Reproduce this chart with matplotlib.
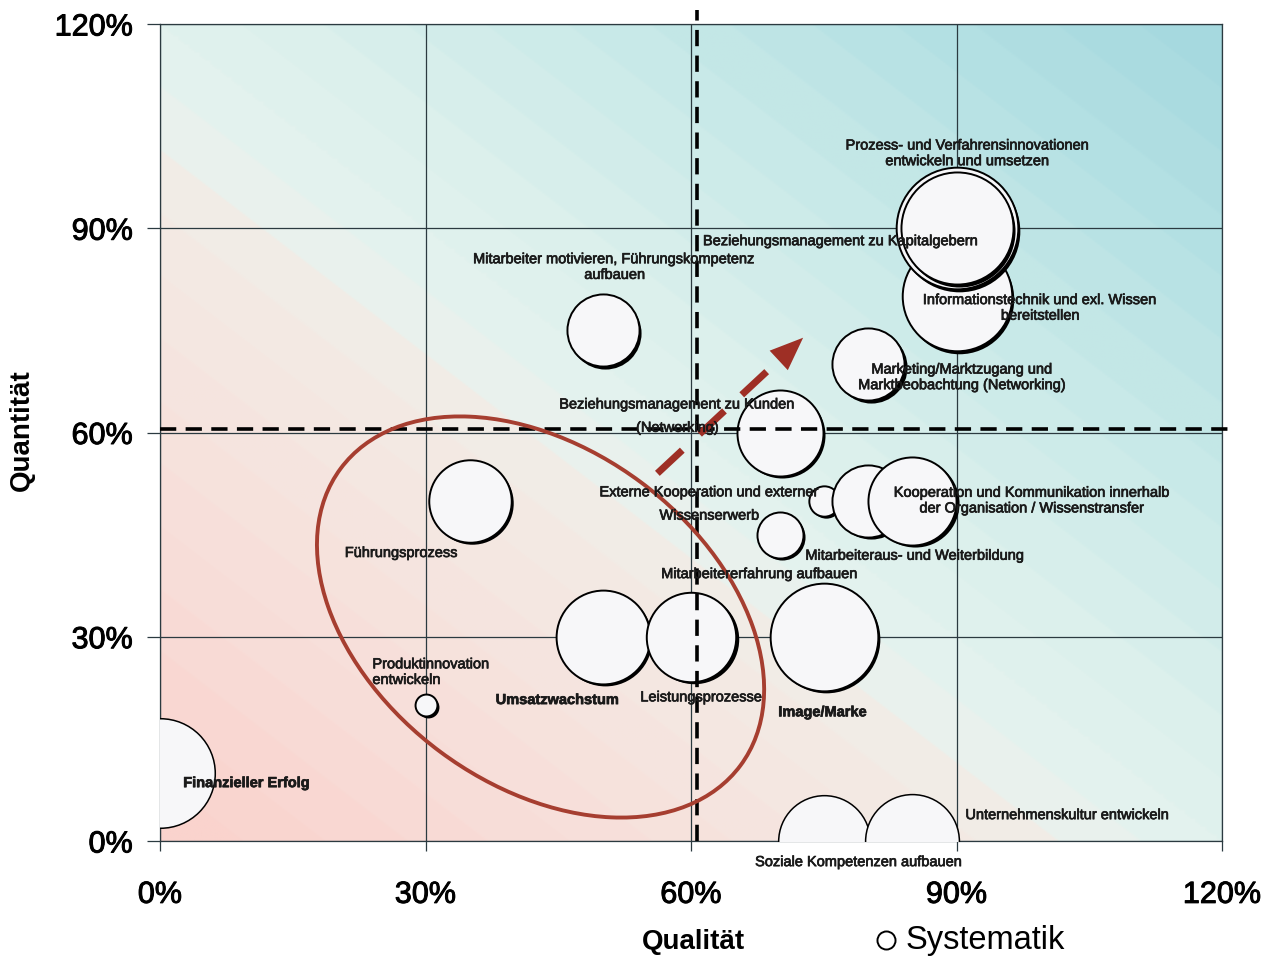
import numpy as np
import matplotlib
matplotlib.use("Agg")
import matplotlib.pyplot as plt
import matplotlib.transforms as mtransforms
import matplotlib.patheffects as pe
from matplotlib.colors import LinearSegmentedColormap
from matplotlib.patches import Ellipse, FancyArrowPatch
from matplotlib.lines import Line2D

plt.rcParams["font.family"] = ["Liberation Sans", "DejaVu Sans"]

# bubbles: name, Qualität (%), Quantität (%), bubble weight (area)
names = ["Finanzieller Erfolg", "Produktinnovation entwickeln", "Umsatzwachstum",
         "Leistungsprozesse", "Image/Marke", "Führungsprozess",
         "Mitarbeiter motivieren, Führungskompetenz aufbauen",
         "Beziehungsmanagement zu Kunden (Networking)",
         "Externe Kooperation und externer Wissenserwerb",
         "Mitarbeiteraus- und Weiterbildung", "Mitarbeitererfahrung aufbauen",
         "Kooperation und Kommunikation innerhalb der Organisation / Wissenstransfer",
         "Marketing/Marktzugang und Marktbeobachtung (Networking)",
         "Informationstechnik und exl. Wissen bereitstellen",
         "Prozess- und Verfahrensinnovationen entwickeln und umsetzen",
         "Beziehungsmanagement zu Kapitalgebern",
         "Soziale Kompetenzen aufbauen", "Unternehmenskultur entwickeln"]
qual = [0, 30, 50, 60, 75, 35, 50, 70, 75, 70, 80, 85, 80, 90, 90, 90, 75, 85]
quant = [10, 20, 30, 30, 30, 50, 75, 60, 50, 45, 50, 50, 70, 80, 90, 90, 0, 0]
weight = [30, 1.2, 22, 20, 29, 17, 13, 18.5, 2.3, 5.3, 13, 19.4, 13, 30, 37, 31.4, 21, 22]

# label texts and where they sit (data units)
label_txt = ["Finanzieller Erfolg", "Produktinnovation\nentwickeln", "Umsatzwachstum",
             "Leistungsprozesse", "Image/Marke", "Führungsprozess",
             "Mitarbeiter motivieren, Führungskompetenz\naufbauen",
             "Beziehungsmanagement zu Kunden\n(Networking)",
             "Externe Kooperation und externer\nWissenserwerb",
             "Mitarbeiteraus- und Weiterbildung", "Mitarbeitererfahrung aufbauen",
             "Kooperation und Kommunikation innerhalb\nder Organisation / Wissenstransfer",
             "Marketing/Marktzugang und\nMarktbeobachtung (Networking)",
             "Informationstechnik und exl. Wissen\nbereitstellen",
             "Prozess- und Verfahrensinnovationen\nentwickeln und umsetzen",
             "Beziehungsmanagement zu Kapitalgebern",
             "Soziale Kompetenzen aufbauen", "Unternehmenskultur entwickeln"]
label_x = [9.8, 24.0, 44.9, 61.2, 74.9, 27.3, 51.4, 58.5, 62.1, 85.4, 67.8, 98.6, 90.7, 99.5, 91.3, 77.0, 79.0, 102.6]
label_y = [8.5, 24.8, 20.7, 21.1, 18.9, 42.3, 84.3, 62.4, 49.5, 41.9, 39.2, 50.0, 68.1, 78.3, 101.0, 88.1, -3.1, 3.8]
label_bold = ["Finanzieller Erfolg", "Umsatzwachstum", "Image/Marke"]

ticks = [0, 30, 60, 90, 120]
qual_cut, quant_cut = 60.7, 60.5
arrow_from, arrow_to = (56.2, 54.0), (72.9, 74.2)
ellipse_center = (43.0, 32.9)

fig = plt.figure(figsize=(12.73, 9.58), dpi=100)
ax = fig.add_axes([160/1273, 1-841/958, 1062/1273, 817/958])

# diagonal background, pink lower left -> teal upper right, in bands
cmap = LinearSegmentedColormap.from_list("bg", [
    (0.0, "#fad3cd"), (0.15, "#f8ddd8"), (0.3, "#f5e7e1"), (0.4, "#f1ede7"),
    (0.43, "#e7f3ef"), (0.55, "#dbf0ec"), (0.7, "#c8e9e8"), (0.85, "#b3e0e3"),
    (1.0, "#a3d7de")])
gx, gy = np.meshgrid(np.linspace(0, 1, 400), np.linspace(0, 1, 400))
t = np.floor((gx + gy) / 2 * 26) / 26
ax.imshow(t, extent=[0, 120, 0, 120], origin="lower", aspect="auto",
          cmap=cmap, vmin=0, vmax=1, zorder=0, interpolation="bilinear")

ax.set_xlim(0, 120); ax.set_ylim(0, 120)
ax.set_xticks(ticks); ax.set_yticks(ticks)
ax.set_xticklabels([f"{v}%" for v in ticks]); ax.set_yticklabels([f"{v}%" for v in ticks])
ax.tick_params(axis="x", length=7, width=0.9, pad=21, labelsize=22, color="#2b3a40")
ax.tick_params(axis="y", length=9.5, width=0.9, pad=10, labelsize=22, color="#2b3a40")
for lab in ax.get_xticklabels() + ax.get_yticklabels():
    lab.set_path_effects([pe.withStroke(linewidth=0.7, foreground="black")])
ax.grid(True, color="#2b3a40", lw=0.9)
ax.set_axisbelow(True)
for sp in ax.spines.values():
    sp.set_color("#2b3a40"); sp.set_linewidth(0.9)

# bubbles with a dark drop shadow
shadow_tr = mtransforms.offset_copy(ax.transData, fig=fig, x=2.5, y=-2.5, units="dots")
for k, (x, y, w) in enumerate(zip(qual, quant, weight)):
    r = 10 * np.sqrt(w)
    s = (2 * r * 72 / fig.dpi) ** 2
    if y > 0 and x > 0:
        ax.scatter([x], [y], s=s, color="black", transform=shadow_tr, zorder=3 + 2*k, lw=0)
        lw = 1.4
    else:
        lw = 1.1
    ax.scatter([x], [y], s=s, facecolor="#f7f7f9", edgecolor="black", lw=lw, zorder=4 + 2*k)

# threshold lines
ax.plot([qual_cut, qual_cut], [0, 122], color="black", lw=2.6, ls=(0, (4.5, 2.6)),
        clip_on=False, zorder=50)
ax.plot([0, 121], [quant_cut, quant_cut], color="black", lw=2.6, ls=(0, (4.5, 2.6)),
        clip_on=False, zorder=50)

# red ellipse
ell_tr = fig.dpi_scale_trans + mtransforms.ScaledTranslation(*ellipse_center, ax.transData)
ax.add_patch(Ellipse((0, 0), 4.98, 3.36, angle=-36.6, transform=ell_tr, fill=False,
                     ec="#a63e30", lw=2.8, zorder=52))

# red dashed arrow
a0, a1 = np.array(arrow_from), np.array(arrow_to)
shaft_end = a0 + 0.74 * (a1 - a0)
head_base = a0 + 0.82 * (a1 - a0)
ax.plot([a0[0], shaft_end[0]], [a0[1], shaft_end[1]], color="#9e2f25", lw=5,
        ls=(0, (4.9, 3.4)), dash_capstyle="butt", zorder=53)
ax.add_patch(FancyArrowPatch(tuple(head_base), tuple(a1), arrowstyle="-|>,head_length=1.0,head_width=0.4",
                             mutation_scale=24, color="#9e2f25", lw=0, zorder=53))

# labels
heavy = [pe.withStroke(linewidth=0.5, foreground="#1a1a1a")]
for txt, x, y in zip(label_txt, label_x, label_y):
    ls = 1.85 if txt.startswith(("Beziehungsmanagement zu K", "Externe")) else 1.15
    ha = "left" if txt.startswith("Produkt") else "center"
    ax.text(x, y, txt, ha=ha, va="center", fontsize=10.5, color="#1a1a1a",
            fontweight="bold" if txt in label_bold else "normal",
            linespacing=ls, zorder=60, clip_on=False, path_effects=heavy)

fig.text(22/1273, 1-430/958, "Quantität", rotation=90, ha="center", va="center",
         fontsize=20, fontweight="bold")
fig.text(693/1273, 1-942/958, "Qualität", ha="center", va="center",
         fontsize=20, fontweight="bold")
fig.add_artist(Line2D([886/1273], [1-940/958], transform=fig.transFigure, marker="o",
                      ms=13, mfc="white", mec="black", mew=1.4, ls="none"))
fig.text(906/1273, 1-940/958, "Systematik", ha="left", va="center", fontsize=23.5)

fig.savefig("out.png", dpi=100, facecolor="white")
